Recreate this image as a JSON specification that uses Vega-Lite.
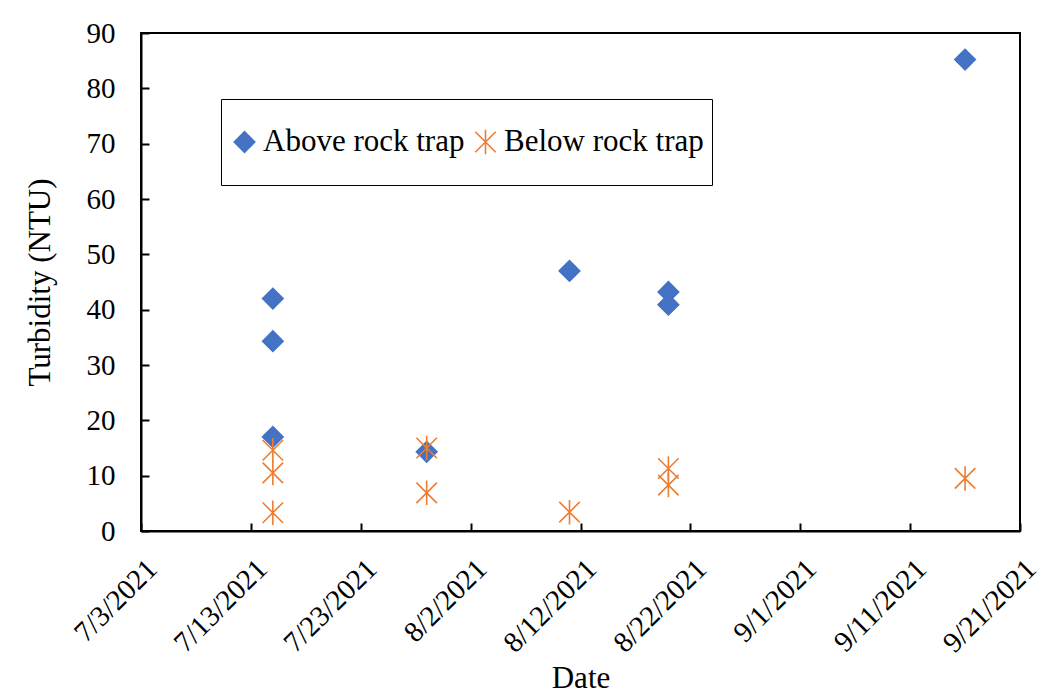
{
  "$schema": "https://vega.github.io/schema/vega-lite/v6.json",
  "width": 879,
  "height": 498,
  "autosize": {"type": "none"},
  "padding": {"left": 141, "top": 33, "right": 34, "bottom": 167},
  "background": "white",
  "config": {
    "font": "Liberation Serif",
    "view": {"stroke": "black", "strokeWidth": 2},
    "axis": {"grid": false, "domainColor": "black", "domainWidth": 2, "tickColor": "black", "tickWidth": 2, "labelColor": "black", "titleColor": "black", "titleFontWeight": "normal", "labelFont": "Liberation Serif", "titleFont": "Liberation Serif"}
  },
  "data": {
    "values": [
      {"date": "2021-07-15", "series": "Above rock trap", "ntu": 42.0},
      {"date": "2021-07-15", "series": "Above rock trap", "ntu": 34.3},
      {"date": "2021-07-15", "series": "Above rock trap", "ntu": 17.0},
      {"date": "2021-07-29", "series": "Above rock trap", "ntu": 14.3},
      {"date": "2021-08-11", "series": "Above rock trap", "ntu": 47.0},
      {"date": "2021-08-20", "series": "Above rock trap", "ntu": 43.2},
      {"date": "2021-08-20", "series": "Above rock trap", "ntu": 40.9},
      {"date": "2021-09-16", "series": "Above rock trap", "ntu": 85.2},
      {"date": "2021-07-15", "series": "Below rock trap", "ntu": 14.6},
      {"date": "2021-07-15", "series": "Below rock trap", "ntu": 10.5},
      {"date": "2021-07-15", "series": "Below rock trap", "ntu": 3.3},
      {"date": "2021-07-29", "series": "Below rock trap", "ntu": 15.0},
      {"date": "2021-07-29", "series": "Below rock trap", "ntu": 6.9},
      {"date": "2021-08-11", "series": "Below rock trap", "ntu": 3.4},
      {"date": "2021-08-20", "series": "Below rock trap", "ntu": 11.3},
      {"date": "2021-08-20", "series": "Below rock trap", "ntu": 8.3},
      {"date": "2021-09-16", "series": "Below rock trap", "ntu": 9.5}
    ]
  },
  "mark": {"type": "point", "filled": false, "size": 420, "strokeWidth": 1.6, "opacity": 1},
  "encoding": {
    "x": {
      "field": "date",
      "type": "temporal",
      "title": "Date",
      "scale": {"type": "utc", "domain": [{"year": 2021, "month": 7, "date": 3, "utc": true}, {"year": 2021, "month": 9, "date": 21, "utc": true}]},
      "axis": {
        "values": [
          {"year": 2021, "month": 7, "date": 3, "utc": true},
          {"year": 2021, "month": 7, "date": 13, "utc": true},
          {"year": 2021, "month": 7, "date": 23, "utc": true},
          {"year": 2021, "month": 8, "date": 2, "utc": true},
          {"year": 2021, "month": 8, "date": 12, "utc": true},
          {"year": 2021, "month": 8, "date": 22, "utc": true},
          {"year": 2021, "month": 9, "date": 1, "utc": true},
          {"year": 2021, "month": 9, "date": 11, "utc": true},
          {"year": 2021, "month": 9, "date": 21, "utc": true}
        ],
        "format": "%-m/%-d/%Y",
        "labelAngle": -45,
        "labelAlign": "right",
        "labelBaseline": "top",
        "labelFontSize": 29,
        "labelPadding": 31,
        "labelOffset": 1,
        "tickSize": -8,
        "labelOverlap": false,
        "labelFlush": false,
        "titleFontSize": 31,
        "titlePadding": 6
      }
    },
    "y": {
      "field": "ntu",
      "type": "quantitative",
      "title": "Turbidity (NTU)",
      "scale": {"domain": [0, 90], "nice": false},
      "axis": {"values": [0, 10, 20, 30, 40, 50, 60, 70, 80, 90], "labelFontSize": 29, "labelPadding": 34, "tickSize": -8, "titleFontSize": 31, "titlePadding": 30}
    },
    "shape": {
      "field": "series",
      "type": "nominal",
      "scale": {"domain": ["Above rock trap", "Below rock trap"], "range": ["diamond", "M-1,-1L1,1M-1,1L1,-1M0,-1.2L0,1.2"]},
      "legend": {
        "title": null,
        "orient": "none",
        "legendX": 80,
        "legendY": 66,
        "direction": "horizontal",
        "strokeColor": "black",
        "padding": 8,
        "clipHeight": 70,
        "labelFontSize": 31,
        "labelFont": "Liberation Serif",
        "labelColor": "black",
        "labelLimit": 400,
        "labelOffset": 3,
        "columnPadding": 5,
        "symbolSize": 420,
        "symbolStrokeWidth": 1.6,
        "symbolOpacity": 1
      }
    },
    "fill": {
      "field": "series",
      "type": "nominal",
      "scale": {"domain": ["Above rock trap", "Below rock trap"], "range": ["#4472C4", "transparent"]},
      "legend": null
    },
    "stroke": {
      "field": "series",
      "type": "nominal",
      "scale": {"domain": ["Above rock trap", "Below rock trap"], "range": ["#4472C4", "#ED7D31"]},
      "legend": null
    }
  }
}
